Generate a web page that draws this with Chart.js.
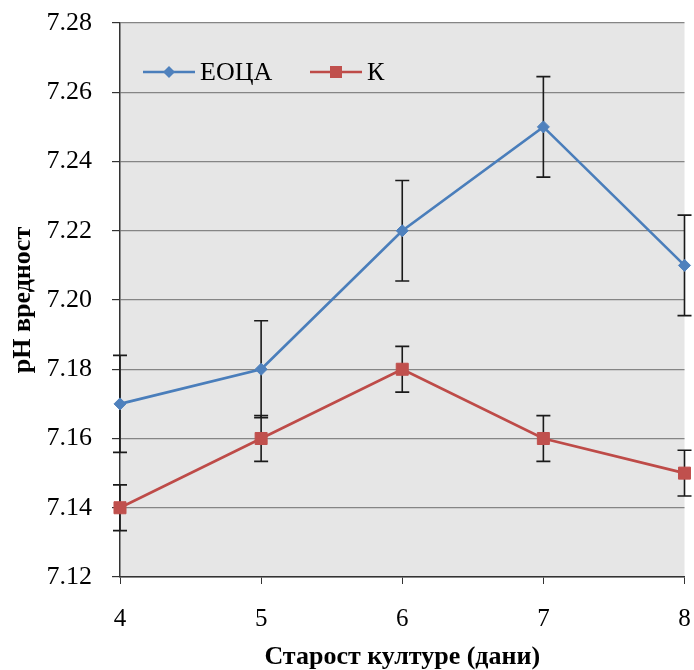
<!DOCTYPE html>
<html>
<head>
<meta charset="utf-8">
<script src="https://cdn.jsdelivr.net/npm/chart.js@4.4.0/dist/chart.umd.min.js"></script>
<style>
    html, body { margin: 0; padding: 0; background: #ffffff; }
    #wrap { width: 694px; height: 670px; }
</style>
</head>
<body>
<div id="wrap"><canvas id="phChart" width="694" height="670"></canvas></div>
<script>
// culture age (days)
const days = ['4', '5', '6', '7', '8'];
// pH values and error (+/-) per series
const eocaPH = [7.17, 7.18, 7.22, 7.25, 7.21];
const eocaErr = [0.014, 0.014, 0.0145, 0.0145, 0.0145];
const kPH = [7.14, 7.16, 7.18, 7.16, 7.15];
const kErr = [0.0066, 0.0066, 0.0066, 0.0066, 0.0066];
const yMin = 7.12;
const yMax = 7.28;
const yStep = 0.02;

const FONT = '"Liberation Serif", "Times New Roman", serif';

// gray plot background
const plotBg = {
    id: 'plotBg',
    beforeDraw(chart) {
        const a = chart.chartArea;
        const ctx = chart.ctx;
        ctx.save();
        ctx.fillStyle = '#e6e6e6';
        ctx.fillRect(a.left, a.top, a.right - a.left, a.bottom - a.top);
        ctx.restore();
    }
};

renderChart();

function renderChart() {
    const errorBars = {
        id: 'errorBars',
        beforeDatasetsDraw(chart) {
            const ctx = chart.ctx;
            const x = chart.scales.x;
            const y = chart.scales.y;
            ctx.save();
            ctx.strokeStyle = '#1a1a1a';
            ctx.lineWidth = 1.6;
            chart.data.datasets.forEach(function (ds) {
                ds.data.forEach(function (v, i) {
                    const px = x.getPixelForValue(i);
                    const top = y.getPixelForValue(v + ds.err[i]);
                    const bot = y.getPixelForValue(v - ds.err[i]);
                    ctx.beginPath();
                    ctx.moveTo(px, top);
                    ctx.lineTo(px, bot);
                    ctx.moveTo(px - 7, top);
                    ctx.lineTo(px + 7, top);
                    ctx.moveTo(px - 7, bot);
                    ctx.lineTo(px + 7, bot);
                    ctx.stroke();
                });
            });
            ctx.restore();
        }
    };

    // legend drawn inside the plot, Excel style (line + marker)
    const insideLegend = {
        id: 'insideLegend',
        afterDatasetsDraw(chart) {
            const ctx = chart.ctx;
            const items = [
                { ds: chart.data.datasets[0], x: 143 },
                { ds: chart.data.datasets[1], x: 310 }
            ];
            const cy = 72;
            ctx.save();
            items.forEach(function (it) {
                const ds = it.ds;
                ctx.strokeStyle = ds.borderColor;
                ctx.lineWidth = ds.borderWidth;
                ctx.beginPath();
                ctx.moveTo(it.x, cy);
                ctx.lineTo(it.x + 52, cy);
                ctx.stroke();
                const mx = it.x + 26;
                ctx.fillStyle = ds.pointBackgroundColor;
                ctx.beginPath();
                if (ds.pointStyle === 'rectRot') {
                    const r = ds.pointRadius;
                    ctx.moveTo(mx, cy - r);
                    ctx.lineTo(mx + r, cy);
                    ctx.lineTo(mx, cy + r);
                    ctx.lineTo(mx - r, cy);
                    ctx.closePath();
                } else {
                    const s = ds.pointRadius * Math.SQRT1_2;
                    ctx.rect(mx - s, cy - s, 2 * s, 2 * s);
                }
                ctx.fill();
                ctx.fillStyle = '#000000';
                ctx.font = '26px ' + FONT;
                ctx.textBaseline = 'middle';
                ctx.fillText(ds.label, it.x + 57, cy + 1);
            });
            ctx.restore();
        }
    };

    const data = {
        labels: days,
        datasets: [
            {
                label: 'ЕОЦА',
                data: eocaPH,
                err: eocaErr,
                borderColor: '#4a7ebb',
                borderWidth: 2.6,
                pointStyle: 'rectRot',
                pointRadius: 6,
                pointBackgroundColor: '#4f81bd',
                pointBorderColor: '#4f81bd',
                pointBorderWidth: 1,
                tension: 0,
                clip: false
            },
            {
                label: 'К',
                data: kPH,
                err: kErr,
                borderColor: '#be4b48',
                borderWidth: 2.6,
                pointStyle: 'rect',
                pointRadius: 8.5,
                pointBackgroundColor: '#c0504d',
                pointBorderColor: '#c0504d',
                pointBorderWidth: 1,
                tension: 0,
                clip: false
            }
        ]
    };

    const config = {
        type: 'line',
        data: data,
        options: {
            responsive: false,
            animation: false,
            layout: {
                padding: { top: 23, right: 7, left: 0, bottom: 0 }
            },
            plugins: {
                legend: { display: false },
                tooltip: { enabled: false }
            },
            scales: {
                x: {
                    offset: false,
                    afterFit: function (scale) {
                        scale.height = 93;
                        scale.paddingLeft = 0;
                        scale.paddingRight = 0;
                    },
                    grid: {
                        display: true,
                        drawOnChartArea: false,
                        drawTicks: true,
                        tickLength: 7,
                        color: '#333333'
                    },
                    border: { color: '#333333', width: 1.5 },
                    ticks: {
                        color: '#000000',
                        padding: 20,
                        maxRotation: 0,
                        font: { family: FONT, size: 25 }
                    },
                    title: {
                        display: true,
                        text: 'Старост културе (дани)',
                        color: '#000000',
                        padding: { top: 0, bottom: 0 },
                        font: { family: FONT, size: 26, weight: 'bold', lineHeight: 1 }
                    }
                },
                y: {
                    min: yMin,
                    max: yMax,
                    afterFit: function (scale) {
                        scale.width = 120;
                        scale.paddingTop = 0;
                        scale.paddingBottom = 0;
                    },
                    grid: {
                        color: '#858585',
                        lineWidth: 1.2,
                        drawTicks: true,
                        tickLength: 8,
                        tickColor: '#333333'
                    },
                    border: { color: '#333333', width: 1.5 },
                    ticks: {
                        stepSize: yStep,
                        color: '#000000',
                        padding: 20,
                        font: { family: FONT, size: 26 },
                        callback: function (v) { return Number(v).toFixed(2); }
                    },
                    title: {
                        display: true,
                        text: 'рН вредност',
                        color: '#000000',
                        padding: { top: 8, bottom: 0 },
                        font: { family: FONT, size: 26, weight: 'bold' }
                    }
                }
            }
        },
        plugins: [plotBg, errorBars, insideLegend]
    };

    new Chart(document.getElementById('phChart'), config);
}
</script>
</body>
</html>
